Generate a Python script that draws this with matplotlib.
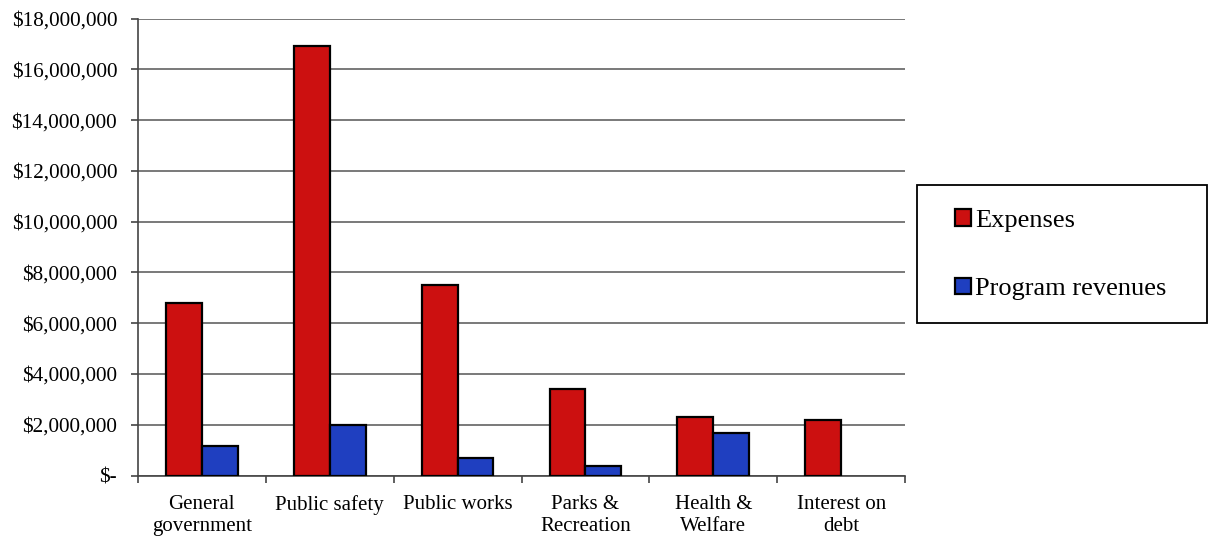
import numpy as np
import matplotlib
matplotlib.use('Agg')
import matplotlib.pyplot as plt
from matplotlib.patches import Rectangle
from matplotlib.ticker import FuncFormatter, MultipleLocator

# ─── Data ─────────────────────────────────────────────────────────────────────
categories = ['General\ngovernment', 'Public safety', 'Public works',
              'Parks &\nRecreation', 'Health &\nWelfare', 'Interest on\ndebt']
expenses = [6_800_000, 16_900_000, 7_520_000, 3_390_000, 2_320_000, 2_170_000]
program_revenues = [1_160_000, 2_000_000, 690_000, 360_000, 1_670_000, 0]

RED = '#cc1010'
BLUE = '#1f3fc0'

plt.rcParams['font.family'] = ['Liberation Serif', 'DejaVu Serif']

W, H = 1209, 537
fig = plt.figure(figsize=(W / 100, H / 100), dpi=100)
ax = fig.add_axes([0.1141, 0.1145, 0.6345, 0.851])

x = np.arange(len(categories))
w = 0.28
b1 = ax.bar(x - w / 2, expenses, w, color=RED, edgecolor='black',
            linewidth=1.6, label='Expenses', zorder=3)
b2 = ax.bar(x + w / 2, program_revenues, w, color=BLUE, edgecolor='black',
            linewidth=1.6, label='Program revenues', zorder=3)
# no bar for a zero value
for rect, v in zip(b2, program_revenues):
    if v == 0:
        rect.set_visible(False)

ax.set_xlim(-0.5, len(categories) - 0.5)
ax.set_ylim(0, 18_000_000)
ax.yaxis.set_major_locator(MultipleLocator(2_000_000))


def money(v, pos):
    if v == 0:
        return '$-'
    return f'${v:,.0f}'


ax.yaxis.set_major_formatter(FuncFormatter(money))
ax.grid(axis='y', color='#555555', linewidth=1.1, zorder=0)
ax.set_axisbelow(True)

# category labels between boundary ticks
ax.set_xticks(x)
ax.set_xticklabels(categories, fontsize=15, linespacing=1.25)
ax.tick_params(axis='x', length=0, pad=14)
ax.set_xticks(np.arange(len(categories) + 1) - 0.5, minor=True)
ax.tick_params(axis='x', which='minor', length=5, width=1.2, color='#444444')
ax.tick_params(axis='y', labelsize=15.3, length=5, width=1.2,
               color='#444444', pad=10)

for s in ['top', 'right']:
    ax.spines[s].set_visible(False)
for s in ['left', 'bottom']:
    ax.spines[s].set_color('#444444')
    ax.spines[s].set_linewidth(1.2)

# legend box drawn separately so the entries can sit inset from the frame
fig.patches.append(Rectangle((917 / W, 1 - 323 / H), 290 / W, 138 / H,
                             transform=fig.transFigure, facecolor='white',
                             edgecolor='black', linewidth=1.3, zorder=1))
leg = fig.legend(handles=[b1, b2], loc='upper left',
                 bbox_to_anchor=(955 / W, 1 - 209 / H),
                 fontsize=19, frameon=False, handlelength=0.6,
                 handleheight=0.6, handletextpad=0.15, labelspacing=1.74,
                 borderpad=0, borderaxespad=0)
leg.set_zorder(2)

fig.savefig('out.png', dpi=100)
